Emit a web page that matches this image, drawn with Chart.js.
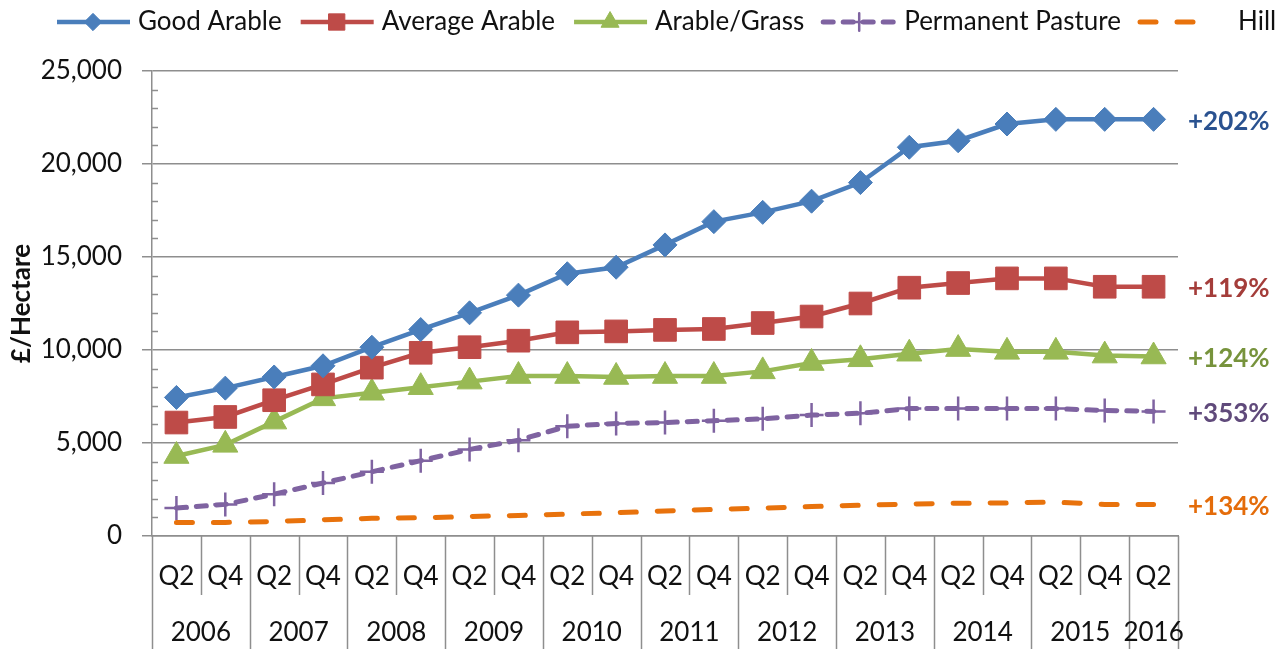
<!DOCTYPE html>
<html>
<head>
<meta charset="utf-8">
<title>Land values by type</title>
<script src="https://cdn.jsdelivr.net/npm/chart.js@4/dist/chart.umd.min.js"></script>
<style>
  html, body { margin: 0; padding: 0; background: #fff; }
  #wrap { width: 1283px; height: 649px; position: relative; }
</style>
</head>
<body>
<div id="wrap"><canvas id="chart"></canvas></div>
<script>
// Data (£ per hectare, half-yearly)
const quarters = ['Q2', 'Q4', 'Q2', 'Q4', 'Q2', 'Q4', 'Q2', 'Q4', 'Q2', 'Q4', 'Q2',
  'Q4', 'Q2', 'Q4', 'Q2', 'Q4', 'Q2', 'Q4', 'Q2', 'Q4', 'Q2'];
const years = ['2006', '2007', '2008', '2009', '2010', '2011', '2012', '2013', '2014', '2015', '2016'];
const yearSpans = [2, 2, 2, 2, 2, 2, 2, 2, 2, 2, 1];

const goodArable = [7450, 7950, 8550, 9150, 10150, 11100, 12000, 12950, 14100, 14450, 15650,
  16900, 17400, 18000, 19000, 20900, 21250, 22150, 22400, 22400, 22400];
const averageArable = [6100, 6400, 7300, 8150, 9050, 9850, 10150, 10500, 10950, 11000, 11080,
  11130, 11450, 11800, 12500, 13350, 13600, 13850, 13850, 13400, 13400];
const arableGrass = [4300, 4900, 6150, 7400, 7700, 8000, 8300, 8600, 8600, 8550, 8600,
  8600, 8850, 9300, 9500, 9800, 10050, 9900, 9900, 9700, 9650];
const permanentPasture = [1500, 1700, 2250, 2850, 3450, 4050, 4650, 5150, 5900, 6050, 6100,
  6200, 6300, 6500, 6600, 6850, 6850, 6850, 6850, 6750, 6700];
const hill = [730, 730, 780, 870, 950, 980, 1050, 1100, 1180, 1250, 1350,
  1430, 1500, 1580, 1650, 1720, 1760, 1780, 1820, 1700, 1700];

const seriesNames = ['Good Arable', 'Average Arable', 'Arable/Grass', 'Permanent Pasture', 'Hill'];
const changeLabels = ['+202%', '+119%', '+124%', '+353%', '+134%'];
const changeColors = ['#2A5290', '#A43D3A', '#77933C', '#604A7B', '#E46C0A'];

const FONT = 'Lato, "Liberation Sans", sans-serif';
const AXIS_GREY = '#8E8E8E';
const TEXT = '#111';

function lineSet(label, data, color, extra) {
  return Object.assign({
    label: label,
    data: data,
    borderColor: color,
    backgroundColor: color,
    pointBackgroundColor: color,
    pointBorderColor: color,
    borderWidth: 4.5,
    pointBorderWidth: 1,
    tension: 0,
    fill: false
  }, extra);
}

// Draws the two-level category axis, minor y ticks and the legend
const excelBits = {
  id: 'excelBits',
  afterDatasetsDraw(chart) {
    const ctx = chart.ctx;
    const yScale = chart.scales.y;
    const area = chart.chartArea;
    ctx.save();
    ctx.font = 'bold 26px ' + FONT;
    ctx.textAlign = 'left';
    ctx.textBaseline = 'middle';
    chart.data.datasets.forEach((ds, i) => {
      const last = ds.data[ds.data.length - 1];
      ctx.fillStyle = changeColors[i];
      ctx.fillText(changeLabels[i], area.right + 10, yScale.getPixelForValue(last) + 2);
    });
    ctx.restore();
  },
  afterDraw(chart) {
    const ctx = chart.ctx;
    const xScale = chart.scales.x;
    const yScale = chart.scales.y;
    const area = chart.chartArea;
    const step = xScale.getPixelForValue(1) - xScale.getPixelForValue(0);
    const x0 = xScale.getPixelForValue(0) - step / 2;

    ctx.save();
    ctx.strokeStyle = AXIS_GREY;
    ctx.lineWidth = 1.5;

    // minor ticks on the value axis
    for (let v = 1000; v < 25000; v += 1000) {
      if (v % 5000 === 0) continue;
      const py = Math.round(yScale.getPixelForValue(v)) + 0.5;
      ctx.beginPath();
      ctx.moveTo(area.left, py);
      ctx.lineTo(area.left + 6, py);
      ctx.stroke();
    }

    // category dividers
    const yearEdges = [0];
    yearSpans.forEach(s => yearEdges.push(yearEdges[yearEdges.length - 1] + s));
    for (let i = 0; i <= quarters.length; i++) {
      const bx = Math.round(x0 + i * step) + 0.5;
      const full = yearEdges.includes(i);
      ctx.beginPath();
      ctx.moveTo(bx, area.bottom);
      ctx.lineTo(bx, full ? chart.height : area.bottom + 59);
      ctx.stroke();
    }

    ctx.fillStyle = TEXT;
    ctx.font = '26px ' + FONT;
    ctx.textAlign = 'center';
    ctx.textBaseline = 'middle';
    quarters.forEach((q, i) => {
      ctx.fillText(q, xScale.getPixelForValue(i), area.bottom + 41);
    });
    years.forEach((yr, i) => {
      const cx = x0 + (yearEdges[i] + yearEdges[i + 1]) / 2 * step;
      ctx.fillText(yr, cx, area.bottom + 97);
    });

    // legend: line sample with marker, then the name
    let lx = 55;
    const ly = 22;
    chart.data.datasets.forEach((ds, i) => {
      ctx.save();
      ctx.strokeStyle = ds.borderColor;
      ctx.lineWidth = ds.borderWidth;
      ctx.lineCap = ds.borderCapStyle || 'butt';
      ctx.setLineDash(ds.borderDash || []);
      ctx.beginPath();
      ctx.moveTo(lx + 2, ly);
      ctx.lineTo(lx + 75, ly);
      ctx.stroke();
      ctx.setLineDash([]);
      if (ds.pointRadius > 0 && Chart.helpers && Chart.helpers.drawPoint) {
        ctx.fillStyle = ds.pointBackgroundColor;
        ctx.strokeStyle = ds.pointBorderColor;
        ctx.lineWidth = ds.pointBorderWidth;
        Chart.helpers.drawPoint(ctx, {
          pointStyle: ds.pointStyle,
          radius: ds.pointRadius * 0.72,
          borderWidth: ds.pointBorderWidth,
          rotation: 0
        }, lx + 38, ly);
      }
      ctx.restore();
      ctx.fillStyle = TEXT;
      ctx.textAlign = 'left';
      // the last entry sits a little further from its sample in the original
      const tx = lx + (i === chart.data.datasets.length - 1 ? 100 : 83);
      ctx.fillText(ds.label, tx, ly);
      lx = tx + ctx.measureText(ds.label).width + 17;
    });
    ctx.restore();
  }
};

const ctx = document.getElementById('chart');
new Chart(ctx, {
  type: 'line',
  data: {
    labels: quarters,
    datasets: [
      lineSet(seriesNames[0], goodArable, '#4A7EBB', { pointStyle: 'rectRot', pointRadius: 12 }),
      lineSet(seriesNames[1], averageArable, '#BE4B48', { pointStyle: 'rect', pointRadius: 16 }),
      lineSet(seriesNames[2], arableGrass, '#98B954', { pointStyle: 'triangle', pointRadius: 14.5 }),
      lineSet(seriesNames[3], permanentPasture, '#7F63A1', {
        pointStyle: 'cross', pointRadius: 12, pointBorderWidth: 2.5,
        borderWidth: 5, borderDash: [10, 10], borderCapStyle: 'round'
      }),
      lineSet(seriesNames[4], hill, '#E8720C', {
        pointRadius: 0, borderWidth: 5, borderDash: [16, 21], borderCapStyle: 'round'
      })
    ]
  },
  options: {
    responsive: true,
    maintainAspectRatio: false,
    animation: false,
    layout: { padding: { top: 71, right: 105, bottom: 113, left: 0 } },
    plugins: {
      legend: { display: false },
      tooltip: { enabled: false }
    },
    scales: {
      x: {
        type: 'category',
        offset: true,
        ticks: { display: false },
        grid: { display: false },
        border: { display: true, color: AXIS_GREY, width: 1.5 },
        afterFit(scale) { scale.height = 0; }
      },
      y: {
        min: 0,
        max: 25000,
        ticks: {
          stepSize: 5000,
          padding: 20,
          color: TEXT,
          font: { family: FONT, size: 26 },
          callback: v => v.toLocaleString('en-US')
        },
        grid: { color: AXIS_GREY, lineWidth: 1.5, tickLength: 10 },
        border: { display: true, color: AXIS_GREY, width: 1.5 },
        title: {
          display: true,
          text: '£/Hectare',
          color: TEXT,
          font: { family: FONT, size: 26, weight: 'bold' },
          padding: { top: 6, bottom: 0 }
        },
        afterFit(scale) { scale.width = 152; }
      }
    }
  },
  plugins: [excelBits]
});
</script>
</body>
</html>
